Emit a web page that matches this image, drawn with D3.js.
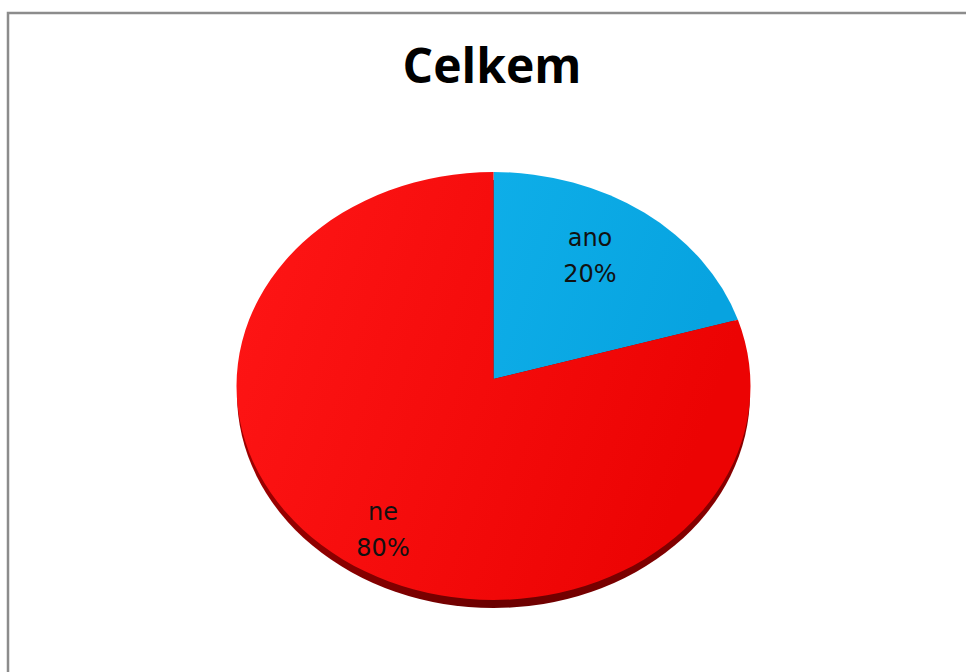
<!DOCTYPE html>
<html>
<head>
<meta charset="utf-8">
<script src="https://cdn.jsdelivr.net/npm/d3@7"></script>
<style>
  html, body { margin: 0; padding: 0; background: #fff; }
  svg { display: block; }
</style>
</head>
<body>
<svg id="chart" width="966" height="672"></svg>
<script>
// ---- data ----
const title = "Celkem";
const categories = ["ano", "ne"];
const values = [20, 80];

// ---- layout ----
const W = 966, H = 672;
const cx = 493.5, cy = 386;     // ellipse centre of top face
const rx = 257, ry = 214;       // ellipse radii
const apexDy = -7;              // perspective offset of pie centre
const depth = 8;                // rim thickness

const svg = d3.select("#chart");
const defs = svg.append("defs");

// gradients
const gRed = defs.append("linearGradient").attr("id", "gRed")
  .attr("x1", "0%").attr("y1", "0%").attr("x2", "100%").attr("y2", "30%");
gRed.append("stop").attr("offset", "0%").attr("stop-color", "#ff1616");
gRed.append("stop").attr("offset", "100%").attr("stop-color", "#ec0303");

const gBlue = defs.append("linearGradient").attr("id", "gBlue")
  .attr("x1", "0%").attr("y1", "0%").attr("x2", "100%").attr("y2", "30%");
gBlue.append("stop").attr("offset", "0%").attr("stop-color", "#0eaee8");
gBlue.append("stop").attr("offset", "100%").attr("stop-color", "#07a3e0");

const gRim = defs.append("linearGradient").attr("id", "gRim")
  .attr("x1", "0%").attr("y1", "0%").attr("x2", "100%").attr("y2", "0%");
gRim.append("stop").attr("offset", "0%").attr("stop-color", "#a00000");
gRim.append("stop").attr("offset", "50%").attr("stop-color", "#6a0000");
gRim.append("stop").attr("offset", "100%").attr("stop-color", "#8a0000");

const fills = ["url(#gBlue)", "url(#gRed)"];

// border
svg.append("rect")
  .attr("x", 8).attr("y", 13)
  .attr("width", W + 20).attr("height", H + 20)
  .attr("fill", "none")
  .attr("stroke", "#8c8c8c")
  .attr("stroke-width", 2.5);

// title
svg.append("text")
  .attr("x", 492).attr("y", 83)
  .attr("text-anchor", "middle")
  .attr("font-family", "'Open Sans', 'DejaVu Sans', sans-serif")
  .attr("font-weight", "bold")
  .attr("font-size", 48)
  .attr("fill", "#000")
  .text(title);

// pie angles
const pie = d3.pie().sort(null).value(d => d)(values);

const pt = a => [cx + rx * Math.sin(a), cy - ry * Math.cos(a)];

// rim (side of the disc, visible below the top face)
svg.append("ellipse")
  .attr("cx", cx).attr("cy", cy + depth)
  .attr("rx", rx - 0.5).attr("ry", ry)
  .attr("fill", "url(#gRim)");

// slices
const apex = [cx, cy + apexDy];
svg.selectAll("path.slice")
  .data(pie)
  .join("path")
  .attr("class", "slice")
  .attr("d", d => {
    const p0 = pt(d.startAngle), p1 = pt(d.endAngle);
    const large = (d.endAngle - d.startAngle) > Math.PI ? 1 : 0;
    return `M${apex[0]},${apex[1]}L${p0[0]},${p0[1]}A${rx},${ry} 0 ${large} 1 ${p1[0]},${p1[1]}Z`;
  })
  .attr("fill", (d, i) => fills[i]);

// labels
const fx = 0.685, fy = 0.79, labelDx = -7;
const lab = svg.selectAll("g.label")
  .data(pie)
  .join("g")
  .attr("class", "label")
  .attr("transform", d => {
    const a = (d.startAngle + d.endAngle) / 2;
    return `translate(${cx + labelDx + fx * rx * Math.sin(a)},${cy - fy * ry * Math.cos(a)})`;
  });

lab.append("text")
  .attr("text-anchor", "middle")
  .attr("y", -3)
  .attr("font-family", "'DejaVu Sans', sans-serif")
  .attr("font-size", 24)
  .attr("fill", "#111")
  .text((d, i) => categories[i]);

lab.append("text")
  .attr("text-anchor", "middle")
  .attr("y", 33)
  .attr("font-family", "'DejaVu Sans', sans-serif")
  .attr("font-size", 24)
  .attr("fill", "#111")
  .text(d => Math.round(d.value / d3.sum(values) * 100) + "%");
</script>
</body>
</html>
